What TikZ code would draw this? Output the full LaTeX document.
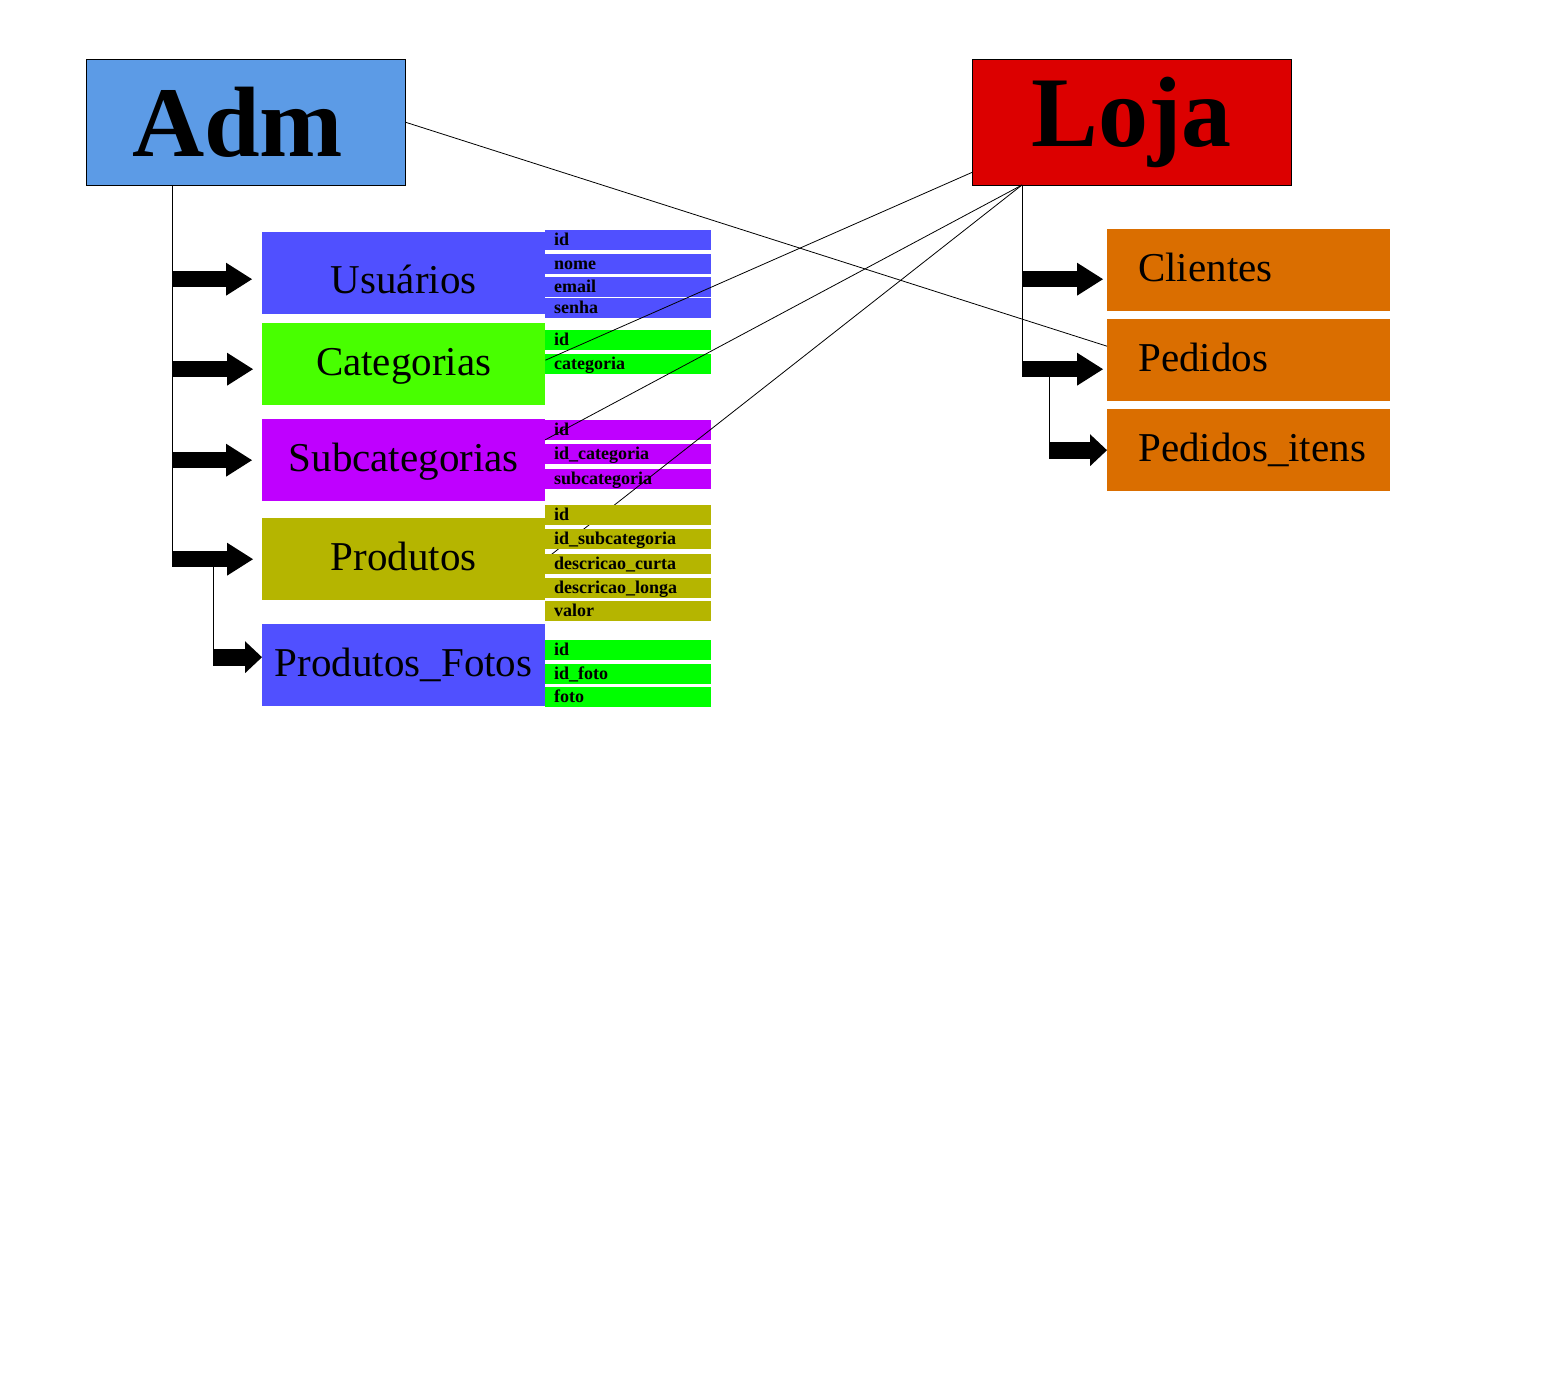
\documentclass[tikz,border=0pt]{standalone}
\usepackage{fontspec}
\setmainfont{Liberation Serif}
\usepackage{tikz}
\usetikzlibrary{arrows.meta}
\definecolor{admazul}{RGB}{92,155,230}
\definecolor{lojavermelho}{RGB}{220,0,0}
\definecolor{azul}{RGB}{80,80,255}
\definecolor{verdecat}{RGB}{72,255,0}
\definecolor{verde}{RGB}{0,255,0}
\definecolor{roxo}{RGB}{191,0,255}
\definecolor{oliva}{RGB}{181,181,0}
\definecolor{laranja}{RGB}{218,110,0}
\tikzstyle{titulo} = [draw=black, rectangle, inner sep=0, anchor=north west,
    minimum width=319pt, minimum height=126pt, font=\fontsize{100}{110}\selectfont\bfseries]
\tikzstyle{caixa} = [rectangle, inner sep=0, anchor=north west, text height=30pt, text depth=8pt,
    minimum width=283pt, minimum height=82pt, font=\fontsize{41}{49}\selectfont]
\tikzstyle{caixaloja} = [caixa, fill=laranja, inner xsep=31pt, text width=221pt, align=left]
\tikzstyle{campo} = [rectangle, inner ysep=0, inner xsep=9pt, anchor=north west,
    minimum width=166pt, minimum height=19.5pt, text width=148pt, align=left,
    text height=14pt, text depth=2pt, font=\fontsize{18}{18}\selectfont\bfseries]
\tikzstyle{seta} = [line width=16pt, -{Triangle[length=26pt,width=33pt,line width=0pt]}]
\tikzstyle{setinha} = [line width=17pt, -{Triangle[length=17pt,width=32pt,line width=0pt]}]
\tikzstyle{fio} = [draw=black, line width=0.8pt]

\begin{document}
\begin{tikzpicture}[x=1pt, y=-1pt]
\useasboundingbox (0,0) rectangle (1544,1383);

\node[titulo, fill=admazul] (adm) at (86,59) {\hspace{-16pt}Adm};
\node[titulo, fill=lojavermelho] (loja) at (972,59) {Loja};

\node[caixa, fill=azul, text height=40pt, text depth=0pt] (usuarios) at (262,232) {Usuários};
\node[caixa, fill=verdecat] (categorias) at (262,323) {Categorias};
\node[caixa, fill=roxo] (subcategorias) at (262,419) {Subcategorias};
\node[caixa, fill=oliva] (produtos) at (262,518) {Produtos};
\node[caixa, fill=azul] (fotos) at (262,624) {Produtos\_Fotos};

\node[caixaloja] (clientes) at (1107,229) {Clientes};
\node[caixaloja] (pedidos) at (1107,319) {Pedidos};
\node[caixaloja] (itens) at (1107,409) {Pedidos\_itens};

\foreach \txt/\y [count=\i] in {id/230, nome/254, email/277, senha/298}
    \node[campo, fill=azul] (usuarios-\i) at (545,\y) {\txt};
\foreach \txt/\y [count=\i] in {id/330, categoria/354}
    \node[campo, fill=verde] (categorias-\i) at (545,\y) {\txt};
\foreach \txt/\y [count=\i] in {id/420, id\_categoria/444, subcategoria/469}
    \node[campo, fill=roxo] (subcategorias-\i) at (545,\y) {\txt};
\foreach \txt/\y [count=\i] in {id/640, id\_foto/664, foto/687}
    \node[campo, fill=verde] (fotos-\i) at (545,\y) {\txt};

\coordinate (admtronco) at (172,185);
\coordinate (lojatronco) at (1022,185);
\coordinate (fototronco) at (213,566);
\coordinate (itenstronco) at (1049,373);

\draw[fio] (admtronco) -- ([yshift=-8pt]admtronco |- produtos.west);
\draw[fio] (fototronco) -- (fototronco |- fotos.west);
\draw[fio] (lojatronco) -- ([yshift=-8pt]lojatronco |- pedidos.west);
\draw[fio] (itenstronco) -- (itenstronco |- itens.west);

\draw[seta] ([yshift=-6pt]admtronco |- usuarios.west) -- ([xshift=-10pt,yshift=-6pt]usuarios.west);
\draw[seta] ([yshift=-5pt]admtronco |- categorias.west) -- ([xshift=-9pt,yshift=-5pt]categorias.west);
\draw[seta] (admtronco |- subcategorias.west) -- ([xshift=-10pt]subcategorias.west);
\draw[seta] (admtronco |- produtos.west) -- ([xshift=-9pt]produtos.west);
\draw[setinha] ([yshift=8pt]fototronco |- fotos.west) -- ([yshift=8pt]fotos.west);

\draw[seta] ([yshift=-9pt]lojatronco |- clientes.west) -- ([xshift=-4pt,yshift=-9pt]clientes.west);
\draw[seta] ([yshift=-9pt]lojatronco |- pedidos.west) -- ([xshift=-4pt,yshift=-9pt]pedidos.west);
\draw[setinha] (itenstronco |- itens.west) -- (itens.west);

\draw[fio] (adm.east) -- ([yshift=14pt]pedidos.west);
\draw[fio] ([yshift=13pt]loja.south west) -- ([yshift=4pt]categorias.east);
\draw[fio] (lojatronco) -- (subcategorias-1.south west);
\draw[fio] (lojatronco) -- (produtos.east);

\foreach \txt/\y [count=\i] in {id/505, id\_subcategoria/529, descricao\_curta/554, descricao\_longa/578, valor/601}
    \node[campo, fill=oliva] (produtos-\i) at (545,\y) {\txt};
\end{tikzpicture}
\end{document}
